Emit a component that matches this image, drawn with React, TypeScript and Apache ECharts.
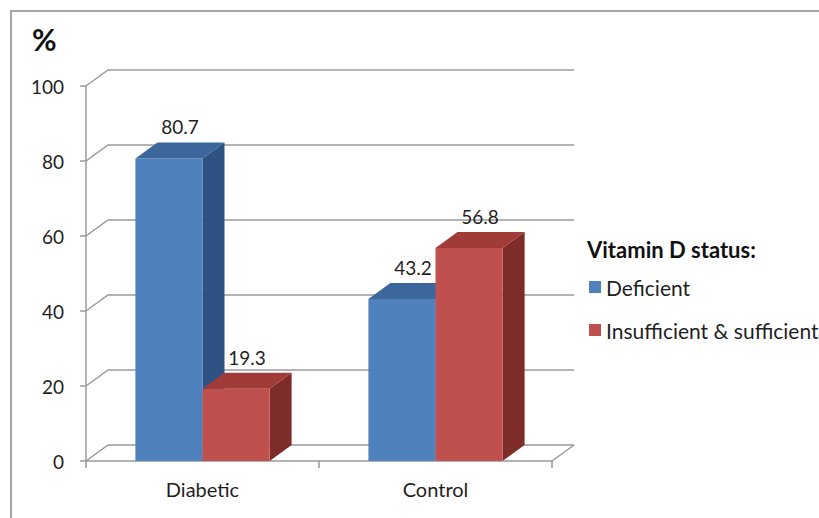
import React, { useEffect, useRef } from 'react';
import * as echarts from 'echarts';

const categories = ['Diabetic', 'Control'];
const deficient = [80.7, 43.2];
const sufficient = [19.3, 56.8];
const seriesNames = ['Deficient', 'Insufficient & sufficient'];
const yTicks = [0, 20, 40, 60, 80, 100];
const legendTitle = 'Vitamin D status:';
const yUnit = '%';

const DX = 22;
const DY = -16;
const FONT = 'Lato, "Open Sans", sans-serif';
const GRID_COLOR = '#9a9a9a';
const TEXT_COLOR = '#1f1f1f';

const palettes = [
  { front: '#4F81BD', top: '#3C679C', side: '#2E5283' },
  { front: '#C0504D', top: '#A03B38', side: '#7D2C2A' },
];

function barRenderer(idx: number) {
  return (params: any, api: any) => {
    const cat = api.value(0);
    const val = api.value(1);
    const p0 = api.coord([cat, 0]);
    const p1 = api.coord([cat, val]);
    const band = api.size([1, 0])[0];
    const w = band * 0.288;
    const xl = p0[0] - w + idx * w;
    const xr = xl + w;
    const yb = p0[1];
    const yt = p1[1];
    const c = palettes[idx];
    return {
      type: 'group',
      children: [
        {
          type: 'polygon',
          shape: { points: [[xr, yb], [xr + DX, yb + DY], [xr + DX, yt + DY], [xr, yt]] },
          style: { fill: c.side },
        },
        {
          type: 'rect',
          shape: { x: xl, y: yt, width: w, height: yb - yt },
          style: { fill: c.front },
        },
        {
          type: 'polygon',
          shape: { points: [[xl, yt], [xl + DX, yt + DY], [xr + DX, yt + DY], [xr, yt]] },
          style: { fill: c.top },
        },
        {
          type: 'text',
          z2: 10,
          style: {
            text: String(val),
            x: (xl + xr) / 2 + DX / 2,
            y: yt + DY - 6,
            align: 'center',
            verticalAlign: 'bottom',
            fontSize: 19,
            fontFamily: FONT,
            fill: TEXT_COLOR,
          },
        },
      ],
    };
  };
}

function gridRenderer(params: any, api: any) {
  const cs = params.coordSys;
  const v = api.value(1);
  const y = api.coord([0, v])[1];
  const x0 = cs.x;
  const x1 = cs.x + cs.width;
  const children: any[] = [
    {
      type: 'polyline',
      shape: { points: [[x0, y], [x0 + DX, y + DY], [x1 + DX, y + DY]] },
      style: { stroke: GRID_COLOR, lineWidth: 1.5, fill: null },
    },
  ];
  if (v === 0) {
    children.push({
      type: 'line',
      shape: { x1: x1, y1: y, x2: x1 + DX, y2: y + DY },
      style: { stroke: GRID_COLOR, lineWidth: 1.5 },
    });
  }
  return { type: 'group', children };
}

export default function App() {
  const ref = useRef<HTMLDivElement>(null);
  useEffect(() => {
    document.body.style.margin = '0';
    const chart = echarts.init(ref.current!, null, { renderer: 'svg' });
    chart.setOption({
      animation: false,
      backgroundColor: '#ffffff',
      grid: { left: 86, top: 86, width: 466, height: 375 },
      xAxis: {
        type: 'category',
        data: categories,
        axisLine: { show: true, lineStyle: { color: GRID_COLOR, width: 1.5 } },
        axisTick: { show: true, length: 7, interval: 0, lineStyle: { color: GRID_COLOR, width: 1.5 } },
        axisLabel: { fontSize: 20, fontFamily: FONT, color: TEXT_COLOR, margin: 18 },
        splitLine: { show: false },
      },
      yAxis: {
        type: 'value',
        min: 0,
        max: 100,
        interval: 20,
        axisLine: { show: true, lineStyle: { color: GRID_COLOR, width: 1.5 } },
        axisTick: { show: true, length: 6, lineStyle: { color: GRID_COLOR, width: 1.5 } },
        axisLabel: { fontSize: 19, fontFamily: FONT, color: TEXT_COLOR, margin: 22 },
        splitLine: { show: false },
      },
      legend: {
        orient: 'vertical',
        left: 589,
        top: 276,
        padding: 0,
        itemWidth: 12,
        itemHeight: 12,
        itemGap: 21,
        icon: 'rect',
        textStyle: { fontSize: 21, fontFamily: FONT, color: TEXT_COLOR, lineHeight: 22 },
        data: seriesNames.map((n, i) => ({ name: n, icon: 'rect', itemStyle: { color: palettes[i].front } })),
      },
      graphic: [
        { type: 'line', shape: { x1: 10, y1: 11, x2: 819, y2: 11 }, style: { stroke: '#a6a6a6', lineWidth: 2 } },
        { type: 'line', shape: { x1: 11, y1: 11, x2: 11, y2: 518 }, style: { stroke: '#a6a6a6', lineWidth: 2 } },
        {
          type: 'text',
          left: 32,
          top: 24,
          style: { text: yUnit, fontSize: 30, fontWeight: 'bold', fontFamily: FONT, fill: '#111' },
        },
        {
          type: 'text',
          left: 587,
          top: 238,
          style: { text: legendTitle, fontSize: 22, fontWeight: 'bold', fontFamily: FONT, fill: '#111' },
        },
      ],
      series: [
        {
          type: 'custom',
          name: 'grid3d',
          z: 1,
          silent: true,
          renderItem: gridRenderer,
          data: yTicks.map((v) => [0, v]),
        },
        {
          type: 'custom',
          name: seriesNames[0],
          z: 5,
          itemStyle: { color: palettes[0].front },
          renderItem: barRenderer(0),
          data: deficient.map((v, i) => [i, v]),
        },
        {
          type: 'custom',
          name: seriesNames[1],
          z: 6,
          itemStyle: { color: palettes[1].front },
          renderItem: barRenderer(1),
          data: sufficient.map((v, i) => [i, v]),
        },
      ],
    });
    return () => chart.dispose();
  }, []);
  return <div ref={ref} style={{ width: 819, height: 518 }} />;
}
